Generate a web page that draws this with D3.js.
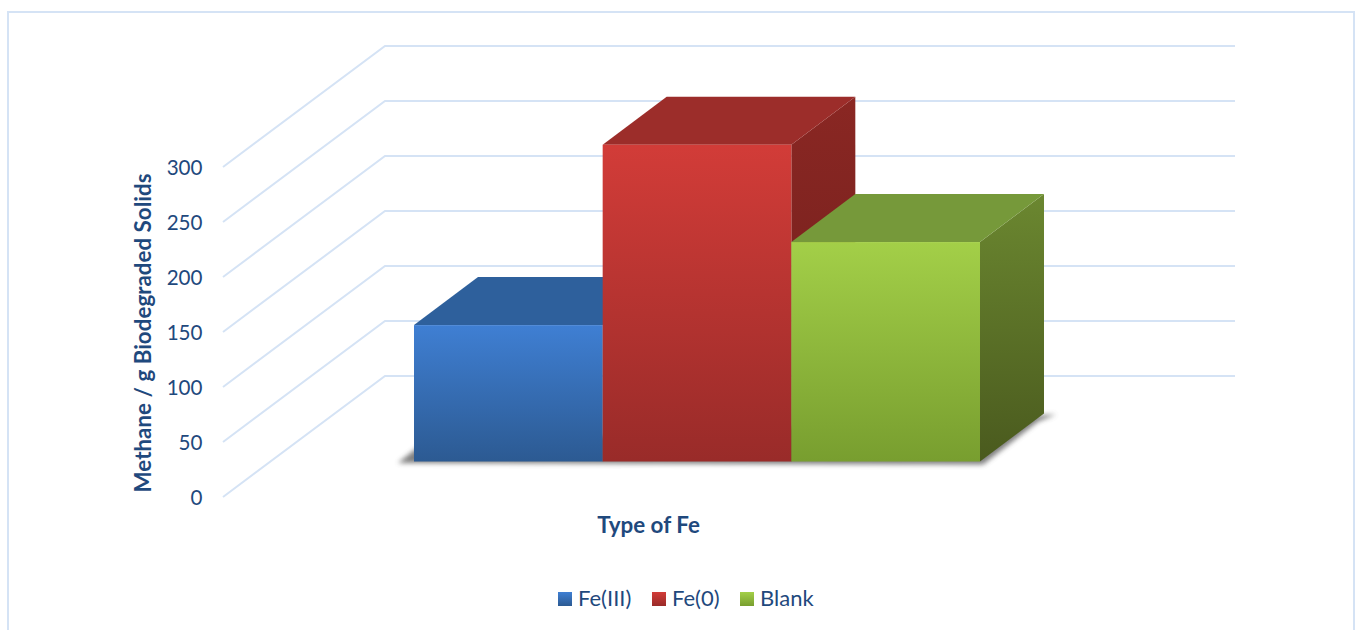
<!DOCTYPE html>
<html><head><meta charset="utf-8">
<script src="https://cdn.jsdelivr.net/npm/d3@7/dist/d3.min.js"></script>
<style>html,body{margin:0;padding:0;background:#fff;overflow:hidden}svg{display:block}text{font-family:Lato,"Open Sans",sans-serif;fill:#1f497d}</style>
</head><body><svg id="c" width="1358" height="630"></svg>
<script>
const categories = ["Fe(III)", "Fe(0)", "Blank"];
const seriesValues = [124, 288, 199.5];
const tickValues = [0, 50, 100, 150, 200, 250, 300];
const axisTitleY = "Methane / g Biodegraded Solids";
const axisTitleX = "Type of Fe";
const frontColors = [["#3f7fd3", "#2c5a92"], ["#d23c38", "#992b29"], ["#a3cf48", "#789e2f"]];
const topColors = ["#2e609c", "#9c2d2a", "#76993a"];
const sideColors = [["#2a5488", "#234670"], ["#8a2723", "#6e1e1b"], ["#6b8730", "#4a5a1e"]];

const svg = d3.select("#c");
const defs = svg.append("defs");
const blur = defs.append("filter").attr("id", "sh").attr("x", "-20%").attr("y", "-20%").attr("width", "140%").attr("height", "140%");
blur.append("feGaussianBlur").attr("stdDeviation", 2.6);
frontColors.forEach((c, i) => {
  const g = defs.append("linearGradient").attr("id", "f" + i).attr("x1", 0).attr("y1", 0).attr("x2", 0).attr("y2", 1);
  g.append("stop").attr("offset", 0).attr("stop-color", c[0]);
  g.append("stop").attr("offset", 1).attr("stop-color", c[1]);
});
sideColors.forEach((c, i) => {
  const g = defs.append("linearGradient").attr("id", "s" + i).attr("x1", 0).attr("y1", 0).attr("x2", 0).attr("y2", 1);
  g.append("stop").attr("offset", 0).attr("stop-color", c[0]);
  g.append("stop").attr("offset", 1).attr("stop-color", c[1]);
});

// frame
svg.append("rect").attr("x", 8).attr("y", 12).attr("width", 1346).attr("height", 640)
  .attr("fill", "#fff").attr("stroke", "#d5e3f5").attr("stroke-width", 2);

// scales
const y = d3.scaleLinear().domain([0, 300]).range([497, 167]);
const wallDx = 162, wallDy = -121, backRight = 1235;
const depthDx = 64, depthDy = -48, floorLift = 35.5;
const x = d3.scaleBand().domain(categories).range([414, 980]);
const barBase = v => y(v) - floorLift;

// walls and gridlines
const line = d3.line();
svg.append("g").selectAll("path").data(tickValues).join("path")
  .attr("d", t => line([[223, y(t)], [223 + wallDx, y(t) + wallDy], [backRight, y(t) + wallDy]]))
  .attr("fill", "none").attr("stroke", "#d5e3f5").attr("stroke-width", 2);

// floor shadow
const shadowL = x(categories[0]), shadowR = x(categories[2]) + x.bandwidth();
svg.append("path").attr("filter", "url(#sh)").attr("fill", "#555").attr("opacity", .75)
  .attr("d", line([[shadowL - 16, barBase(0) + 1.5], [shadowL + 6, barBase(0) - 16], [shadowR + depthDx + 12, barBase(0) + depthDy + 1], [shadowR + depthDx - 6, barBase(0) + depthDy + 8], [shadowR + 3, barBase(0) + 3]]) + "Z");

// bars
const bars = svg.append("g").selectAll("g").data(categories).join("g");
bars.append("path").attr("fill", (d, i) => `url(#s${i})`)
  .attr("d", (d, i) => { const X = x(d) + x.bandwidth(), T = barBase(seriesValues[i]), B = barBase(0);
    return line([[X, T], [X + depthDx, T + depthDy], [X + depthDx, B + depthDy], [X, B]]) + "Z"; });
bars.append("path").attr("fill", (d, i) => topColors[i])
  .attr("d", (d, i) => { const L = x(d), R = L + x.bandwidth(), T = barBase(seriesValues[i]);
    return line([[L, T], [R, T], [R + depthDx, T + depthDy], [L + depthDx, T + depthDy]]) + "Z"; });
bars.append("rect").attr("fill", (d, i) => `url(#f${i})`)
  .attr("x", d => x(d)).attr("width", x.bandwidth())
  .attr("y", (d, i) => barBase(seriesValues[i]))
  .attr("height", (d, i) => barBase(0) - barBase(seriesValues[i]));

// tick labels
svg.append("g").selectAll("text").data(tickValues).join("text")
  .attr("x", 202.5).attr("y", t => y(t) + 8.3).attr("text-anchor", "end")
  .attr("font-size", 20.6).text(t => t);

// axis titles
svg.append("text").attr("transform", "translate(151,333) rotate(-90)").attr("text-anchor", "middle")
  .attr("font-size", 22.4).attr("font-weight", 700).text(axisTitleY);
svg.append("text").attr("x", 648.5).attr("y", 533).attr("text-anchor", "middle")
  .attr("font-size", 22.4).attr("font-weight", 700).text(axisTitleX);

// legend
const legendX = [558, 652, 740];
const lg = svg.append("g").selectAll("g").data(categories).join("g")
  .attr("transform", (d, i) => `translate(${legendX[i]},592)`);
lg.append("rect").attr("width", 14).attr("height", 14).attr("fill", (d, i) => `url(#f${i})`);
lg.append("text").attr("x", 20).attr("y", 13.5).attr("font-size", 22).text(d => d);
</script></body></html>
